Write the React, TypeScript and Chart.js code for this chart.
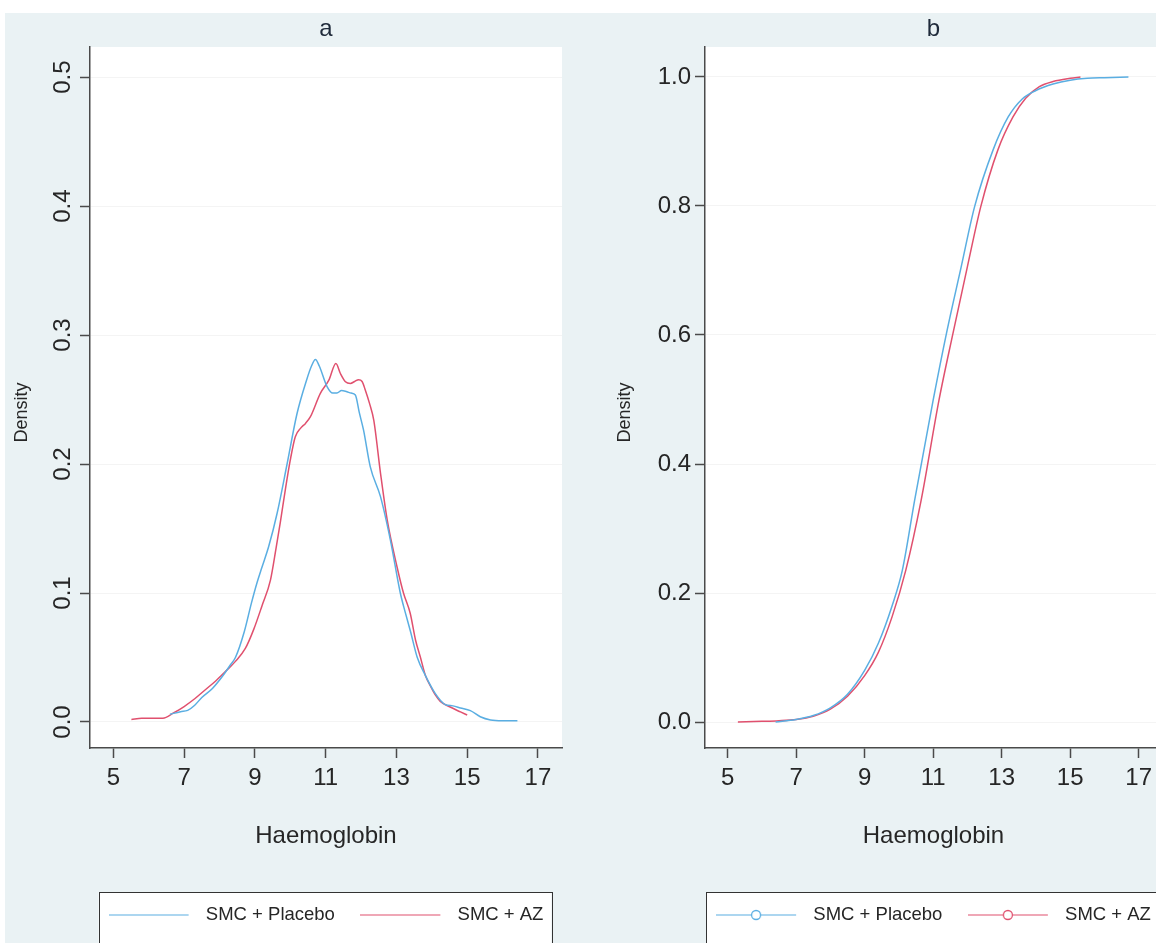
import React, { useEffect, useRef } from 'react';
import { Chart, registerables } from 'chart.js';

Chart.register(...registerables);

// ---------- data ----------
const seriesNames = ['SMC + Placebo', 'SMC + AZ'];
const panelTitles = ['a', 'b'];
const xTitle = 'Haemoglobin';
const yTitle = 'Density';
const xTicks = [5, 7, 9, 11, 13, 15, 17];
const densityTicks = [0, 0.1, 0.2, 0.3, 0.4, 0.5];
const cdfTicks = [0, 0.2, 0.4, 0.6, 0.8, 1.0];

// panel a: kernel densities
const placeboDensityX = [6.6, 6.9, 7.1, 7.3, 7.5, 7.8, 8.1, 8.3, 8.45, 8.7, 8.9, 9.06, 9.2, 9.39, 9.63, 9.91, 10.19, 10.46, 10.6, 10.71, 10.82, 11.04, 11.2, 11.32, 11.45, 11.6, 11.72, 11.84, 11.95, 12.07, 12.26, 12.55, 12.83, 13.11, 13.25, 13.4, 13.59, 13.82, 14.1, 14.38, 14.6, 14.81, 15.09, 15.37, 15.66, 16.0, 16.42];
const placeboDensityY = [0.006, 0.008, 0.009, 0.013, 0.019, 0.026, 0.036, 0.044, 0.05, 0.07, 0.092, 0.108, 0.12, 0.136, 0.162, 0.2, 0.239, 0.265, 0.276, 0.281, 0.276, 0.26, 0.255, 0.255, 0.257, 0.256, 0.255, 0.2535, 0.24, 0.2264, 0.198, 0.1747, 0.141, 0.1, 0.085, 0.07, 0.05, 0.036, 0.022, 0.0135, 0.0125, 0.0109, 0.0088, 0.0041, 0.0016, 0.001, 0.001];
const azDensityX = [5.51, 5.8, 6.1, 6.4, 6.7, 7.0, 7.3, 7.6, 7.9, 8.2, 8.45, 8.73, 8.97, 9.2, 9.44, 9.6, 9.72, 9.86, 10.0, 10.14, 10.3, 10.43, 10.57, 10.85, 11.09, 11.29, 11.42, 11.56, 11.7, 11.82, 11.93, 12.03, 12.12, 12.24, 12.36, 12.55, 12.74, 13.02, 13.2, 13.39, 13.54, 13.68, 13.82, 13.96, 14.1, 14.24, 14.52, 14.81, 15.0];
const azDensityY = [0.002, 0.003, 0.003, 0.003, 0.007, 0.012, 0.018, 0.025, 0.032, 0.04, 0.047, 0.057, 0.072, 0.09, 0.11, 0.135, 0.155, 0.18, 0.203, 0.221, 0.228, 0.2315, 0.2367, 0.2548, 0.265, 0.278, 0.27, 0.2638, 0.2625, 0.264, 0.2654, 0.264, 0.2574, 0.247, 0.234, 0.193, 0.1566, 0.12, 0.1, 0.0843, 0.0636, 0.05, 0.036, 0.028, 0.021, 0.016, 0.0116, 0.0078, 0.0054];

// panel b: cumulative distributions
const placeboCdfX = [6.4, 7.0, 7.5, 8.0, 8.5, 9.0, 9.4, 9.8, 10.1, 10.46, 11.0, 11.39, 11.82, 12.21, 12.75, 13.19, 13.6, 14.0, 14.5, 15.0, 15.5, 16.0, 16.7];
const placeboCdfY = [0.0, 0.004, 0.01, 0.022, 0.043, 0.08, 0.122, 0.18, 0.235, 0.344, 0.499, 0.603, 0.706, 0.799, 0.887, 0.938, 0.966, 0.979, 0.989, 0.995, 0.998, 0.999, 1.0];
const azCdfX = [5.3, 6.0, 6.5, 7.0, 7.5, 8.0, 8.5, 9.0, 9.4, 9.8, 10.2, 10.65, 11.17, 11.58, 12.0, 12.39, 12.89, 13.33, 13.7, 14.1, 14.5, 15.0, 15.3];
const azCdfY = [0.0, 0.001, 0.002, 0.004, 0.009, 0.02, 0.04, 0.072, 0.108, 0.163, 0.235, 0.344, 0.499, 0.603, 0.706, 0.799, 0.887, 0.938, 0.967, 0.985, 0.993, 0.998, 1.0];

// ---------- style ----------
const FONT = '"Liberation Sans", Arial, Helvetica, sans-serif';
const BLUE = '#5aaee2';
const RED = '#e0506e';
const TEXT = '#262626';
const AXIS = '#4a4a4a';
const BG = '#eaf2f4';

const toPoints = (xs: number[], ys: number[]) => xs.map((x, i) => ({ x, y: ys[i] }));

function legendImage(color: string, marker: boolean) {
  const c = document.createElement('canvas');
  c.width = 88;
  c.height = 14;
  const g = c.getContext('2d')!;
  g.strokeStyle = color;
  g.lineWidth = 1.2;
  g.beginPath();
  g.moveTo(0, 7);
  g.lineTo(80, 7);
  g.stroke();
  if (marker) {
    g.beginPath();
    g.arc(40, 7, 4.5, 0, Math.PI * 2);
    g.fillStyle = '#ffffff';
    g.fill();
    g.lineWidth = 1.3;
    g.stroke();
  }
  return c;
}

const panelPlugin = {
  id: 'panelBoxes',
  beforeDraw(chart: any) {
    const { ctx, chartArea } = chart;
    ctx.save();
    ctx.fillStyle = '#ffffff';
    ctx.fillRect(chartArea.left, chartArea.top, chartArea.right - chartArea.left, chartArea.bottom - chartArea.top);
    const lg = chart.legend;
    if (lg && lg.legendHitBoxes && lg.legendHitBoxes.length) {
      const hb = lg.legendHitBoxes;
      const first = hb[0];
      const last = hb[hb.length - 1];
      const left = first.left - 10;
      const right = last.left + last.width + 8;
      const midY = first.top + first.height / 2;
      const top = midY - 23;
      ctx.fillStyle = '#ffffff';
      ctx.fillRect(left, top, right - left, 80);
      ctx.strokeStyle = '#333333';
      ctx.lineWidth = 1;
      ctx.strokeRect(Math.round(left) + 0.5, Math.round(top) + 0.5, Math.round(right - left), 80);
    }
    ctx.restore();
  },
};

function makeConfig(panel: 'a' | 'b') {
  const isA = panel === 'a';
  const placebo = isA ? toPoints(placeboDensityX, placeboDensityY) : toPoints(placeboCdfX, placeboCdfY);
  const az = isA ? toPoints(azDensityX, azDensityY) : toPoints(azCdfX, azCdfY);
  const yTickVals = isA ? densityTicks : cdfTicks;
  const imgs = [legendImage(BLUE, !isA), legendImage(RED, !isA)];
  return {
    type: 'scatter' as const,
    data: {
      datasets: [
        { label: seriesNames[0], data: placebo, borderColor: BLUE, backgroundColor: BLUE },
        { label: seriesNames[1], data: az, borderColor: RED, backgroundColor: RED },
      ].map((d) => ({
        ...d,
        showLine: true,
        pointRadius: 0,
        pointHoverRadius: 0,
        borderWidth: 1.5,
        cubicInterpolationMode: 'monotone' as const,
        fill: false,
      })),
    },
    options: {
      animation: false as const,
      responsive: false,
      maintainAspectRatio: false,
      events: [],
      layout: { padding: { top: 0, left: 0, right: isA ? 18 : 2, bottom: 8.75 } },
      plugins: {
        tooltip: { enabled: false },
        title: {
          display: true,
          text: isA ? panelTitles[0] : panelTitles[1],
          fullSize: false,
          color: '#1f2a3a',
          font: { family: FONT, size: 24, weight: 'normal' as const, lineHeight: 1.2 },
          padding: { top: 1.6, bottom: 3.6 },
        },
        legend: {
          display: true,
          position: 'bottom' as const,
          fullSize: false,
          labels: {
            usePointStyle: true,
            pointStyleWidth: 88,
            padding: 10,
            color: TEXT,
            font: { family: FONT, size: 18.5 },
            generateLabels: () =>
              seriesNames.map((t, i) => ({
                // trailing spaces only widen the gap between the two keys
                text: i === 0 ? t + '   ' : t,
                pointStyle: imgs[i],
                fillStyle: i === 0 ? BLUE : RED,
                strokeStyle: i === 0 ? BLUE : RED,
                lineWidth: 0,
                hidden: false,
                datasetIndex: i,
                fontColor: TEXT,
              })),
          },
        },
      },
      scales: {
        x: {
          type: 'linear' as const,
          min: 4.34,
          max: 17.68,
          afterBuildTicks: (axis: any) => {
            axis.ticks = xTicks.map((v) => ({ value: v }));
          },
          afterFit: (scale: any) => {
            scale.height = 147.75;
          },
          border: { display: true, color: AXIS, width: 1.5 },
          grid: { drawOnChartArea: false, drawTicks: true, tickLength: 10, tickColor: AXIS, tickWidth: 1.5 },
          ticks: {
            autoSkip: false,
            maxRotation: 0,
            minRotation: 0,
            padding: 6,
            color: TEXT,
            font: { family: FONT, size: 24 },
            callback: (v: any) => String(v),
          },
          title: {
            display: true,
            text: xTitle,
            color: TEXT,
            font: { family: FONT, size: 24, lineHeight: 1.2 },
            padding: { top: 0, bottom: 45 },
          },
        },
        y: {
          type: 'linear' as const,
          min: isA ? -0.02016 : -0.0403,
          max: isA ? 0.5233 : 1.0465,
          afterBuildTicks: (axis: any) => {
            axis.ticks = yTickVals.map((v) => ({ value: v }));
          },
          afterFit: (scale: any) => {
            scale.width = isA ? 85 : 125;
          },
          border: { display: true, color: AXIS, width: 1.5 },
          grid: {
            drawOnChartArea: true,
            drawTicks: true,
            color: 'rgba(0,0,0,0.045)',
            lineWidth: 1,
            tickLength: 10,
            tickColor: AXIS,
            tickWidth: 1.5,
          },
          ticks: {
            autoSkip: false,
            minRotation: isA ? 90 : 0,
            maxRotation: isA ? 90 : 0,
            crossAlign: isA ? ('center' as const) : ('near' as const),
            padding: isA ? 0 : 4,
            color: TEXT,
            font: { family: FONT, size: 24 },
            callback: (v: any) => Number(v).toFixed(1),
          },
          title: {
            display: true,
            // trailing spaces nudge the rotated title slightly lower, as in the original
            text: yTitle + '      ',
            color: TEXT,
            font: { family: FONT, size: 18, lineHeight: 1.2 },
            padding: { top: isA ? 6 : 34, bottom: 0 },
          },
        },
      },
    },
    plugins: [panelPlugin],
  };
}

export default function App() {
  const leftRef = useRef<HTMLCanvasElement | null>(null);
  const rightRef = useRef<HTMLCanvasElement | null>(null);

  useEffect(() => {
    const charts: Chart[] = [];
    if (leftRef.current) charts.push(new Chart(leftRef.current, makeConfig('a') as any));
    if (rightRef.current) charts.push(new Chart(rightRef.current, makeConfig('b') as any));
    return () => charts.forEach((c) => c.destroy());
  }, []);

  return (
    <div
      style={{
        position: 'absolute',
        left: 0,
        top: 0,
        width: 1156,
        height: 943,
        overflow: 'hidden',
        background: '#ffffff',
      }}
    >
      <div style={{ position: 'absolute', left: 5, top: 13, width: 1151, height: 930, background: BG }} />
      <canvas
        ref={leftRef}
        width={575}
        height={930}
        style={{ position: 'absolute', left: 5, top: 13, width: 575, height: 930 }}
      />
      <canvas
        ref={rightRef}
        width={584}
        height={930}
        style={{ position: 'absolute', left: 580, top: 13, width: 584, height: 930 }}
      />
    </div>
  );
}
